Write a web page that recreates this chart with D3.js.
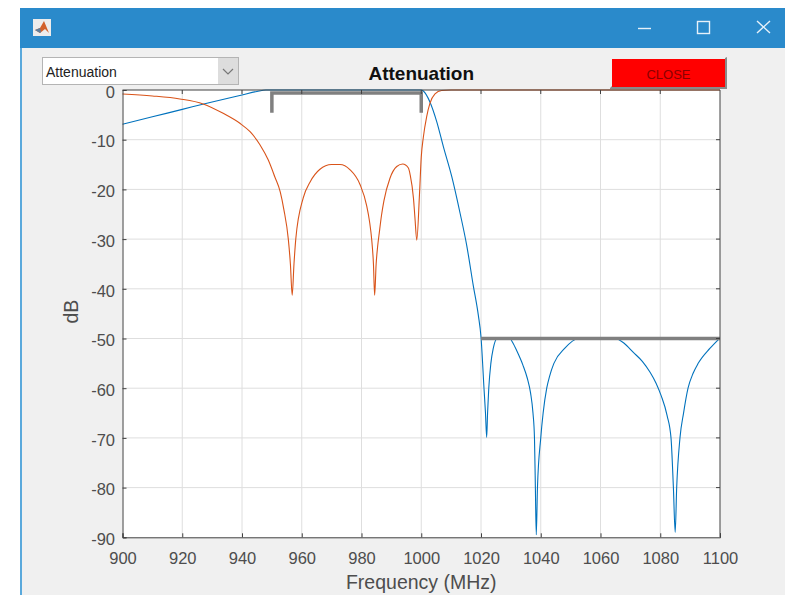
<!DOCTYPE html>
<html>
<head>
<meta charset="utf-8">
<script src="https://cdn.jsdelivr.net/npm/d3@7"></script>
<style>
  html, body { margin: 0; padding: 0; background: #fff; overflow: hidden; }
  svg { display: block; font-family: "Liberation Sans", Arial, sans-serif; }
</style>
</head>
<body>
<div id="chart"></div>
<script>
const titleText = "Attenuation";
const menuText = "Attenuation";
const closeText = "CLOSE";
const xLabel = "Frequency (MHz)";
const yLabel = "dB";
const xTicks = [900, 920, 940, 960, 980, 1000, 1020, 1040, 1060, 1080, 1100];
const yTicks = [0, -10, -20, -30, -40, -50, -60, -70, -80, -90];

const blueFreq = [900, 910, 920, 930, 940, 945, 948, 1000, 1000.7, 1002.9, 1005.2, 1007.4, 1010.2, 1013, 1015.2, 1017.4, 1019.1, 1020, 1021, 1021.5, 1021.9,
  1022.2, 1022.6, 1023.3, 1024.1, 1025.4, 1027.5, 1029.7, 1030.6, 1032, 1034, 1035.5, 1036.6, 1037.4, 1037.9, 1038.2, 1038.5, 1038.9, 1040, 1040.8, 1042, 1043, 1044.4, 1048, 1052.5,
  1058, 1064.9, 1068, 1071, 1074, 1076.6, 1078.6, 1080.3, 1082.3, 1083.6, 1084.4, 1085, 1085.5, 1086.6, 1087.8, 1089.3, 1091, 1092.7, 1096.6, 1099.8];
const blueDb = [-6.9, -5.4, -3.9, -2.4, -1, -0.3, 0, 0, -0.2, -2.4, -6.4, -11.4, -17.4, -24.8, -31.2, -39.3, -45.3, -49.7, -60, -65, -69.9,
  -65, -60, -55, -52, -50, -49.9, -50, -50.8, -52.5, -55.3, -58, -61, -65, -70, -80, -89.5, -80, -70, -65, -60, -57.5, -55, -52, -50,
  -49.9, -50, -51, -52.8, -54.6, -56.8, -59, -61.5, -65.5, -70, -80, -89, -80, -70, -65, -60, -57, -55, -52, -50];
const orangeFreq = [900, 910, 919.2, 927, 933.7, 939.3, 942.7, 946, 948.8, 951, 952.8, 954, 955.5, 956.2, 956.8, 957.4, 958, 960.5, 962.8, 966, 970, 972.8, 976.1, 979.5, 981.7, 982.7, 983.4, 984, 984.4,
  984.9, 985.4, 986, 986.7, 987.5, 989.5, 991.8, 993.8, 995.7, 996.3, 997.4, 997.9, 998.5, 999.4, 1000, 1000.7, 1001.8, 1002.9, 1004.6, 1006.8, 1010, 1100];
const orangeDb = [-0.8, -1.2, -1.8, -2.8, -4.7, -6.7, -8.4, -11, -14.1, -17.5, -20.5, -24, -30, -35, -41.3, -35, -30, -21.7, -18.5, -16, -15, -15, -16, -19, -23.2, -26.5, -30, -35, -41.3,
  -35, -31.5, -28.5, -25.2, -22.3, -17.8, -15.4, -14.9, -15.7, -17.1, -21.8, -25.8, -30.2, -21.1, -13.5, -9.5, -5.4, -2.7, -0.8, -0.1, 0, 0];
const passFreq = [950, 950, 1000, 1000];
const passDb = [-4.6, -0.6, -0.6, -4.6];
const stopFreq = [1020, 1100];
const stopDb = [-50, -50];

const width = 785, height = 595;
const margin = {top: 90, right: 65, bottom: 57.7, left: 122.5};

const svg = d3.select("#chart").append("svg")
    .attr("width", width)
    .attr("height", height);

// window frame
svg.append("rect").attr("x", 20).attr("y", 8).attr("width", width - 20).attr("height", height - 8).attr("fill", "#f0f0f0");
svg.append("rect").attr("x", 20).attr("y", 8).attr("width", width - 20).attr("height", 40).attr("fill", "#2a8acb");
svg.append("rect").attr("x", 20).attr("y", 48).attr("width", 2).attr("height", height - 48).attr("fill", "#5aa9dc");

// figure icon
const icon = svg.append("g").attr("transform", "translate(33,19)");
icon.append("rect").attr("width", 18).attr("height", 17).attr("fill", "#ececec");
icon.append("path").attr("d", "M2,11 L7,9 L11,2 L16,14 L12,10 L7,14 Z").attr("fill", "#d2602a");
icon.append("path").attr("d", "M2,11 L7,9 L8,13 L7,14 Z").attr("fill", "#5f7f9e");

// window buttons
const chrome = svg.append("g").attr("stroke", "#e6f1f9").attr("fill", "none").attr("stroke-width", 1.4);
chrome.append("line").attr("x1", 638).attr("x2", 651).attr("y1", 28.5).attr("y2", 28.5);
chrome.append("rect").attr("x", 697.5).attr("y", 21.5).attr("width", 12).attr("height", 12);
chrome.append("path").attr("d", "M757,21 L770,33 M770,21 L757,33");

const x = d3.scaleLinear()
    .domain([900, 1100])
    .range([margin.left, width - margin.right]);

const y = d3.scaleLinear()
    .domain([-90, 0])
    .range([height - margin.bottom, margin.top]);

svg.append("rect")
    .attr("x", x(900)).attr("y", y(0))
    .attr("width", x(1100) - x(900)).attr("height", y(-90) - y(0))
    .attr("fill", "#fff");

// grid
svg.append("g").selectAll("line").data(xTicks.slice(1, -1)).enter().append("line")
    .attr("x1", d => x(d)).attr("x2", d => x(d))
    .attr("y1", y(0)).attr("y2", y(-90))
    .attr("stroke", "#dedede");
svg.append("g").selectAll("line").data(yTicks.slice(1, -1)).enter().append("line")
    .attr("x1", x(900)).attr("x2", x(1100))
    .attr("y1", d => y(d)).attr("y2", d => y(d))
    .attr("stroke", "#dedede");

let xAxis = g => g
    .attr("transform", `translate(0,${y(-90)})`)
    .style("font-size", "16.5px")
    .style("font-family", "inherit")
    .call(d3.axisBottom(x).tickValues(xTicks).tickSize(-4).tickPadding(14.5).tickFormat(d => String(d)))
    .call(g => g.select(".domain").attr("stroke", "#404040"))
    .call(g => g.selectAll(".tick line").attr("stroke", "#404040"))
    .call(g => g.selectAll("text").attr("fill", "#4d4d4d"));

let yAxis = g => g
    .attr("transform", `translate(${x(900)},0)`)
    .style("font-size", "16.5px")
    .style("font-family", "inherit")
    .call(d3.axisLeft(y).tickValues(yTicks).tickSize(-4).tickPadding(7.5).tickFormat(d => String(d)))
    .call(g => g.select(".domain").attr("stroke", "#404040"))
    .call(g => g.selectAll(".tick line").attr("stroke", "#404040"))
    .call(g => g.selectAll("text").attr("fill", "#4d4d4d").attr("dy", "0.44em"));

const line = d3.line().x(d => x(d[0])).y(d => y(d[1])).curve(d3.curveMonotoneX);

svg.append("path")
    .attr("d", line(d3.zip(blueFreq, blueDb)))
    .attr("fill", "none").attr("stroke", "#0072bd").attr("stroke-width", 1.1);
svg.append("path")
    .attr("d", line(d3.zip(orangeFreq, orangeDb)))
    .attr("fill", "none").attr("stroke", "#d95319").attr("stroke-width", 1.1);

const limitLine = d3.line().x(d => x(d[0])).y(d => y(d[1]));
[[passFreq, passDb], [stopFreq, stopDb]].forEach(s => {
  svg.append("path")
      .attr("d", limitLine(d3.zip(s[0], s[1])))
      .attr("fill", "none").attr("stroke", "#808080").attr("stroke-width", 3.5);
});

// box
svg.append("line").attr("x1", x(900)).attr("x2", x(1100)).attr("y1", y(0)).attr("y2", y(0)).attr("stroke", "#404040");
svg.append("line").attr("x1", x(1100)).attr("x2", x(1100)).attr("y1", y(0)).attr("y2", y(-90)).attr("stroke", "#404040");
svg.append("g").selectAll("line").data(xTicks.slice(1, -1)).enter().append("line")
    .attr("x1", d => x(d)).attr("x2", d => x(d))
    .attr("y1", y(0)).attr("y2", y(0) + 4)
    .attr("stroke", "#404040");
svg.append("g").selectAll("line").data(yTicks.slice(1, -1)).enter().append("line")
    .attr("x1", x(1100) - 4).attr("x2", x(1100))
    .attr("y1", d => y(d)).attr("y2", d => y(d))
    .attr("stroke", "#404040");

svg.append("g").call(xAxis);
svg.append("g").call(yAxis);

svg.append("text")
    .attr("x", x(1000)).attr("y", 589)
    .attr("text-anchor", "middle")
    .attr("font-size", "19.5px")
    .attr("fill", "#4d4d4d")
    .text(xLabel);

svg.append("text")
    .attr("transform", `translate(78,${(y(0) + y(-90)) / 2 - 2}) rotate(-90)`)
    .attr("text-anchor", "middle")
    .attr("font-size", "19.5px")
    .attr("fill", "#4d4d4d")
    .text(yLabel);

svg.append("text")
    .attr("x", x(1000)).attr("y", 80)
    .attr("text-anchor", "middle")
    .attr("font-size", "19px")
    .attr("font-weight", "bold")
    .attr("fill", "#111")
    .text(titleText);

// dropdown
svg.append("rect").attr("x", 42.5).attr("y", 57.5).attr("width", 196).attr("height", 27)
    .attr("fill", "#fff").attr("stroke", "#b4b4b4");
svg.append("rect").attr("x", 218).attr("y", 58).attr("width", 20).attr("height", 26).attr("fill", "#dddddd");
svg.append("path").attr("d", "M223,69 L228,74 L233,69").attr("fill", "none").attr("stroke", "#777").attr("stroke-width", 1.2);
svg.append("text")
    .attr("x", 46).attr("y", 77)
    .attr("font-size", "14px")
    .attr("fill", "#222")
    .text(menuText);

// close button
svg.append("path").attr("d", "M610,88 L612,86 L725,86 L725,58 L727,57 L727,89 L610,89 Z").attr("fill", "#8a8a8a");
svg.append("rect").attr("x", 612).attr("y", 59).attr("width", 113).attr("height", 28).attr("fill", "#ff0000");
svg.append("text")
    .attr("x", 668.5).attr("y", 78.5)
    .attr("text-anchor", "middle")
    .attr("font-size", "13px")
    .attr("fill", "#8a0000")
    .text(closeText);
</script>
</body>
</html>
